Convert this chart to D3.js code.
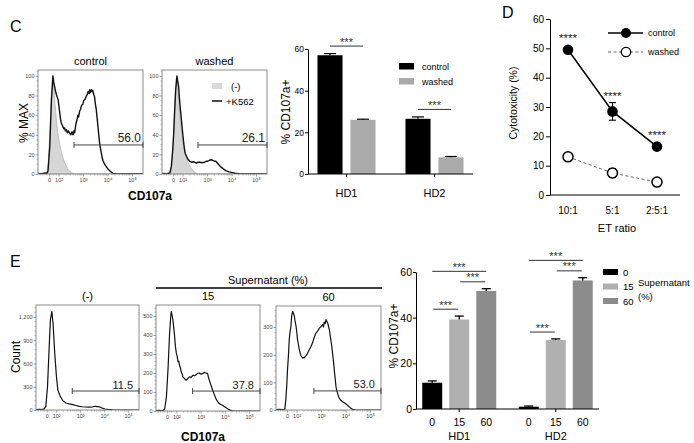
<!DOCTYPE html>
<html><head><meta charset="utf-8">
<script src="https://cdn.jsdelivr.net/npm/d3@7"></script>
<style>body{margin:0;background:#fff;} svg{display:block;}</style>
</head><body>
<script>
// ================= DATA =================
// Histogram x values are in display units of the biexponential CD107a axis
// (1.61 = "0", 2 = 10², 3 = 10³, 4 = 10⁴, 5 = 10⁵)
const histDomain = [1.16, 5.45];
const histTickValues = [1.61, 2, 3, 4, 5];
const histTickLabels = ["0", "10\u00B2", "10\u00B3", "10\u2074", "10\u2075"];

// ---- Panel C histograms (% MAX) ----
const cHistTitles = ["control", "washed"];
const cHistYTicks = [0, 20, 40, 60, 80, 100];
const cNegControl = [[1.16,0],[1.45,0],[1.52,1],[1.58,12],[1.64,40],[1.70,78],[1.75,96],[1.77,98],[1.81,88],[1.86,70],[1.91,55],[1.97,42],[2.04,31],[2.12,22],[2.20,15],[2.30,9],[2.40,4],[2.52,1.5],[2.65,0],[5.45,0]];
const cNegWashed = [[1.16,0],[1.45,0],[1.52,1],[1.58,14],[1.64,45],[1.70,80],[1.75,96],[1.77,98],[1.81,86],[1.86,68],[1.91,52],[1.97,40],[2.04,29],[2.12,20],[2.20,13],[2.30,8],[2.40,4],[2.52,1.5],[2.65,0],[5.45,0]];
const cControlK562 = [[1.16,0.5],[1.3,0.3],[1.45,1],[1.52,0.5],[1.57,3],[1.64,28],[1.71,76],[1.77,100],[1.80,94],[1.84,89],[1.88,84],[1.91,81],[1.95,78],[1.98,76],[2.02,68],[2.05,62],[2.08,56],[2.11,52],[2.15,50],[2.18,48],[2.22,46],[2.25,47],[2.28,44],[2.32,45],[2.36,42],[2.40,44],[2.45,42],[2.50,40],[2.55,43],[2.59,40],[2.63,44],[2.66,42],[2.69,48],[2.72,52],[2.76,56],[2.79,60],[2.82,58],[2.86,64],[2.90,66],[2.94,70],[2.99,71],[3.03,75],[3.08,76],[3.13,79],[3.17,81],[3.21,84],[3.25,82],[3.27,86],[3.30,83],[3.34,86],[3.38,84],[3.40,85],[3.44,81],[3.47,79],[3.50,72],[3.54,66],[3.58,56],[3.61,48],[3.65,38],[3.68,31],[3.72,25],[3.75,21],[3.78,17],[3.81,14],[3.88,10],[3.95,7.5],[4.02,5],[4.09,3.4],[4.15,2],[4.22,0.7],[4.36,0],[5.45,0]];
const cWashedK562 = [[1.16,0.5],[1.35,0.3],[1.48,1],[1.54,7.5],[1.60,25],[1.64,42],[1.68,66],[1.72,86],[1.77,100],[1.80,95],[1.84,89],[1.87,78],[1.91,66],[1.95,56],[1.98,48],[2.02,38],[2.05,31],[2.08,25],[2.11,21],[2.16,18],[2.22,15],[2.29,13],[2.36,12],[2.45,12.5],[2.56,11],[2.63,12],[2.70,12],[2.80,11.5],[2.90,12],[2.97,13],[3.03,13],[3.10,14],[3.17,14.5],[3.23,14],[3.30,13],[3.36,13],[3.43,11],[3.50,9],[3.57,7],[3.63,6],[3.70,4.5],[3.77,3.4],[3.90,2.2],[4.04,1.4],[4.15,0.8],[4.31,0.3],[4.45,0],[5.45,0]];
const cGateStart = [2.63, 2.63];
const cGateLevel = [29.6, 29.6];
const cGateLabels = ["56.0", "26.1"];
const cHistLegend = ["(-)", "+K562"];

// ---- Panel C bars (% CD107a+) ----
const cGroups = ["HD1", "HD2"];
const cSeries = ["control", "washed"];
const cControlMean = [57.0, 26.5];
const cControlErr = [0.8, 0.9];
const cWashedMean = [26.0, 8.0];
const cWashedErr = [0.3, 0.4];
const cYTicks = [0, 20, 40, 60];
const cSigLabel = ["***", "***"];

// ---- Panel D (cytotoxicity) ----
const dRatios = ["10:1", "5:1", "2:5:1"];
const dControl = [49.5, 28.5, 16.5];
const dControlErr = [0.8, 3.0, 0.8];
const dWashed = [13.0, 7.5, 4.4];
const dWashedErr = [0.6, 1.5, 0.5];
const dSig = ["****", "****", "****"];
const dYTicks = [0, 10, 20, 30, 40, 50, 60];

// ---- Panel E histograms (Count) ----
const eHistTitles = ["(-)", "15", "60"];
const eNegYTicks = [0, 300, 600, 900, 1200];
const eNegYLabels = ["0", "300", "600", "900", "1,200"];
const e15YTicks = [0, 100, 200, 300, 400, 500];
const e60YTicks = [0, 100, 200, 300];
const eNegCurve = [[1.16,5],[1.3,10],[1.4,5],[1.5,15],[1.57,47],[1.64,305],[1.71,820],[1.76,1165],[1.82,1270],[1.87,1120],[1.94,735],[2.01,435],[2.07,260],[2.12,215],[2.17,176],[2.28,120],[2.41,90],[2.55,78],[2.69,69],[2.82,58],[2.96,47],[3.10,42],[3.23,39],[3.37,38],[3.50,39],[3.57,45],[3.64,47],[3.70,44],[3.77,43],[3.84,35],[3.91,26],[3.97,18],[4.04,13],[4.15,7],[4.25,4],[4.35,1],[4.45,0],[5.45,0]];
const e15Curve = [[1.16,2],[1.3,4],[1.4,1],[1.47,3],[1.52,12],[1.59,74],[1.66,232],[1.72,408],[1.77,500],[1.79,523],[1.82,505],[1.86,479],[1.89,440],[1.93,391],[1.96,340],[2.00,303],[2.03,290],[2.07,259],[2.10,262],[2.13,241],[2.17,225],[2.20,206],[2.24,195],[2.27,180],[2.34,170],[2.41,162],[2.47,170],[2.54,180],[2.60,176],[2.68,188],[2.75,186],[2.82,192],[2.88,198],[2.95,200],[3.02,194],[3.09,197],[3.15,203],[3.22,200],[3.29,197],[3.32,180],[3.36,162],[3.43,135],[3.50,109],[3.57,85],[3.63,65],[3.70,50],[3.77,39],[3.84,34],[3.91,30],[3.97,24],[4.04,18],[4.11,12],[4.18,7],[4.25,3],[4.32,0],[5.45,0]];
const e60Curve = [[1.16,1],[1.3,2],[1.45,1],[1.52,3],[1.56,36],[1.60,90],[1.63,145],[1.67,200],[1.70,254],[1.73,280],[1.77,302],[1.80,340],[1.84,357],[1.87,350],[1.91,339],[1.94,320],[1.98,302],[2.01,280],[2.04,254],[2.08,235],[2.11,218],[2.15,205],[2.18,196],[2.21,192],[2.25,188],[2.28,190],[2.31,188],[2.35,193],[2.38,196],[2.45,205],[2.52,218],[2.58,228],[2.65,242],[2.72,262],[2.79,278],[2.86,285],[2.93,296],[2.99,300],[3.06,309],[3.10,300],[3.13,318],[3.17,312],[3.20,327],[3.24,320],[3.27,315],[3.30,305],[3.34,290],[3.37,272],[3.40,254],[3.44,230],[3.47,206],[3.51,175],[3.54,145],[3.58,112],[3.61,85],[3.64,70],[3.68,60],[3.71,50],[3.75,42],[3.81,35],[3.88,30],[3.95,26],[4.02,22],[4.08,17],[4.15,12],[4.22,6],[4.29,2],[4.43,0],[5.45,0]];
const eGateStart = [2.67, 2.67, 2.71];
const eGateLevel = [245, 105, 69];
const eGateLabels = ["11.5", "37.8", "53.0"];

// ---- Panel E bars (% CD107a+) ----
const eGroups = ["HD1", "HD2"];
const eConc = ["0", "15", "60"];
const eHD1 = [11.5, 39.2, 51.7];
const eHD1Err = [0.8, 1.5, 1.0];
const eHD2 = [1.0, 30.2, 56.3];
const eHD2Err = [0.3, 0.5, 1.2];
const eYTicks = [0, 20, 40, 60];
const eSigPairs = [[0,1],[1,2],[0,2]];
const eSigLabel = ["***", "***", "***"];

// ================= DRAWING =================
const FONT = "'Liberation Sans', Arial, Helvetica, sans-serif";
const svg = d3.select("body").append("svg").attr("width", 694).attr("height", 443)
  .style("font-family", FONT);

function txt(x, y, s, o = {}) {
  const t = svg.append("text").attr("x", x).attr("y", y).text(s)
    .attr("font-size", o.size || 11).attr("text-anchor", o.anchor || "start")
    .attr("fill", o.fill || "#000");
  if (o.weight) t.attr("font-weight", o.weight);
  if (o.rotate) t.attr("transform", `rotate(-90,${x},${y})`);
  if (o.baseline) t.attr("dominant-baseline", o.baseline);
  return t;
}

let clipId = 0;
function drawHist(cfg) {
  const { x0, y0, w, h, yMax, yTicks, yLabels, yMinor, title, neg, pos, gateStart, gateLevel, gateLabel, labelInset, labelSize, posWidth } = cfg;
  const x = d3.scaleLinear().domain(histDomain).range([x0, x0 + w]);
  const y = d3.scaleLinear().domain([0, yMax]).range([y0 + h, y0]);
  const id = "clip" + (clipId++);
  svg.append("clipPath").attr("id", id).append("rect").attr("x", x0).attr("y", y0).attr("width", w).attr("height", h);
  const g = svg.append("g").attr("clip-path", `url(#${id})`);
  if (neg) {
    g.append("path").datum(neg)
      .attr("d", d3.area().x(d => x(d[0])).y0(y(0)).y1(d => y(d[1])))
      .attr("fill", "#d6d6d6").attr("stroke", "#b5b5b5").attr("stroke-width", 0.8);
  }
  g.append("path").datum(pos)
    .attr("d", d3.line().x(d => x(d[0])).y(d => y(d[1])))
    .attr("fill", "none").attr("stroke", "#111").attr("stroke-width", posWidth || 1.2)
    .attr("stroke-linejoin", "round");
  // box
  svg.append("rect").attr("x", x0).attr("y", y0).attr("width", w).attr("height", h)
    .attr("fill", "none").attr("stroke", "#808080").attr("stroke-width", 0.9);
  // y axis
  const ya = svg.append("g").attr("transform", `translate(${x0},0)`)
    .call(d3.axisLeft(y).tickValues(yTicks).tickSize(2.5).tickPadding(1).tickFormat((d, i) => yLabels[i]));
  ya.select(".domain").remove();
  ya.selectAll("text").attr("font-size", 5.5).attr("fill", "#444").attr("font-family", FONT);
  ya.selectAll("line").attr("stroke", "#777").attr("stroke-width", 0.7);
  const minorY = d3.range(0, yMax, yMinor).filter(v => !yTicks.includes(v));
  svg.append("g").selectAll("line").data(minorY).join("line")
    .attr("x1", x0 - 1.5).attr("x2", x0).attr("y1", d => y(d)).attr("y2", d => y(d))
    .attr("stroke", "#888").attr("stroke-width", 0.6);
  // x axis
  const xa = svg.append("g").attr("transform", `translate(0,${y0 + h})`)
    .call(d3.axisBottom(x).tickValues(histTickValues).tickSize(2.5).tickPadding(2).tickFormat((d, i) => histTickLabels[i]));
  xa.select(".domain").remove();
  xa.selectAll("text").attr("font-size", 5.5).attr("fill", "#444").attr("font-family", FONT);
  xa.selectAll("line").attr("stroke", "#777").attr("stroke-width", 0.7);
  const minorX = [1.25, 1.35, 1.45, 1.52, 1.7, 1.8, 1.9];
  for (let n = 2; n <= 4; n++) for (let k = 2; k <= 9; k++) minorX.push(n + Math.log10(k));
  svg.append("g").selectAll("line").data(minorX).join("line")
    .attr("x1", d => x(d)).attr("x2", d => x(d)).attr("y1", y0 + h).attr("y2", y0 + h + 1.5)
    .attr("stroke", "#888").attr("stroke-width", 0.6);
  // title
  txt(x0 + w / 2, y0 - 5, title, { size: 11, anchor: "middle" });
  // gate
  const gy = y(gateLevel), gx1 = x(gateStart), gx2 = x0 + w;
  svg.append("line").attr("x1", gx1).attr("x2", gx2).attr("y1", gy).attr("y2", gy)
    .attr("stroke", "#444").attr("stroke-width", 1);
  [gx1, gx2].forEach(gx => svg.append("line").attr("x1", gx).attr("x2", gx).attr("y1", gy - 3).attr("y2", gy + 3)
    .attr("stroke", "#444").attr("stroke-width", 1));
  txt(gx2 - labelInset, gy - 2.5, gateLabel, { size: labelSize, anchor: "end", fill: "#222" });
  return { x, y };
}

// ---------- Panel letters ----------
txt(10, 32, "C", { size: 16 });
txt(502, 18, "D", { size: 16 });
txt(10, 267, "E", { size: 16 });

// ---------- Panel C histograms ----------
const cBoxes = [{ x0: 38 }, { x0: 162 }];
[[cNegControl, cControlK562], [cNegWashed, cWashedK562]].forEach((c, i) => {
  drawHist({ x0: cBoxes[i].x0, y0: 70, w: 105, h: 104, yMax: 106, yTicks: cHistYTicks,
    yLabels: cHistYTicks.map(String), yMinor: 5, title: cHistTitles[i], neg: c[0], pos: c[1],
    gateStart: cGateStart[i], gateLevel: cGateLevel[i], gateLabel: cGateLabels[i],
    labelInset: 2, labelSize: 12, posWidth: 1.4 });
});
// legend in washed box
svg.append("rect").attr("x", 212).attr("y", 83).attr("width", 10).attr("height", 6).attr("fill", "#d9d9d9");
txt(231, 86, cHistLegend[0], { size: 9.5, baseline: "central" });
svg.append("line").attr("x1", 212).attr("x2", 222).attr("y1", 101).attr("y2", 101).attr("stroke", "#111").attr("stroke-width", 1.5);
txt(226, 101, cHistLegend[1], { size: 9.5, baseline: "central" });
txt(27.5, 123, "% MAX", { size: 12, anchor: "middle", rotate: true });
txt(150, 200, "CD107a", { size: 12, anchor: "middle", weight: "bold" });

// ---------- Panel C bars ----------
{
  const y = d3.scaleLinear().domain([0, 60]).range([174, 49]);
  const x0 = d3.scaleBand().domain(cGroups).range([308, 473]).paddingInner(0.2).paddingOuter(0.0375);
  const x1 = d3.scaleBand().domain(cSeries).range([0, x0.bandwidth()]).paddingInner(0.24).paddingOuter(0.187);
  const colors = { control: "#000", washed: "#aaaaaa" };
  const rows = [];
  cGroups.forEach((g, i) => {
    rows.push({ g, s: "control", v: cControlMean[i], e: cControlErr[i] });
    rows.push({ g, s: "washed", v: cWashedMean[i], e: cWashedErr[i] });
  });
  svg.append("g").selectAll("rect").data(rows).join("rect")
    .attr("x", d => x0(d.g) + x1(d.s)).attr("width", x1.bandwidth())
    .attr("y", d => y(d.v)).attr("height", d => y(0) - y(d.v)).attr("fill", d => colors[d.s]);
  rows.forEach(d => {
    const cx = x0(d.g) + x1(d.s) + x1.bandwidth() / 2;
    svg.append("line").attr("x1", cx).attr("x2", cx).attr("y1", y(d.v)).attr("y2", y(d.v + d.e)).attr("stroke", "#000").attr("stroke-width", 1.2);
    svg.append("line").attr("x1", cx - 6).attr("x2", cx + 6).attr("y1", y(d.v + d.e)).attr("y2", y(d.v + d.e)).attr("stroke", "#000").attr("stroke-width", 1.2);
  });
  const ya = svg.append("g").attr("transform", "translate(308,0)")
    .call(d3.axisLeft(y).tickValues(cYTicks).tickSize(3).tickSizeOuter(0).tickPadding(1));
  ya.selectAll("text").attr("font-size", 8.5).attr("font-family", FONT);
  ya.select(".domain").attr("stroke-width", 1);
  svg.append("line").attr("x1", 308).attr("x2", 473).attr("y1", 174).attr("y2", 174).attr("stroke", "#000").attr("stroke-width", 1);
  cGroups.forEach(g => {
    const cx = x0(g) + x0.bandwidth() / 2;
    svg.append("line").attr("x1", cx).attr("x2", cx).attr("y1", 174).attr("y2", 177).attr("stroke", "#000");
    txt(cx, 197, g, { size: 11, anchor: "middle" });
  });
  // significance
  cGroups.forEach((g, i) => {
    const top = Math.max(cControlMean[i] + cControlErr[i], cWashedMean[i] + cWashedErr[i]);
    const ly = y(top + 3.6);
    const xa = x0(g) + x1("control") + x1.bandwidth() / 2, xb = x0(g) + x1("washed") + x1.bandwidth() / 2;
    svg.append("line").attr("x1", xa).attr("x2", xb).attr("y1", ly).attr("y2", ly).attr("stroke", "#333").attr("stroke-width", 1);
    txt((xa + xb) / 2, ly - 0.5, cSigLabel[i], { size: 11, anchor: "middle", fill: "#333" });
  });
  // legend
  cSeries.forEach((s, i) => {
    svg.append("rect").attr("x", 399).attr("y", 63 + i * 15).attr("width", 15).attr("height", 6.5).attr("fill", colors[s]);
    txt(422, 66.5 + i * 15, s, { size: 9, baseline: "central" });
  });
  txt(289.5, 112, "% CD107a+", { size: 12, anchor: "middle", rotate: true });
}

// ---------- Panel D ----------
{
  const y = d3.scaleLinear().domain([0, 60]).range([195, 19]);
  const x = d3.scalePoint().domain(dRatios).range([568, 657]);
  const ya = svg.append("g").attr("transform", "translate(550,0)")
    .call(d3.axisLeft(y).tickValues(dYTicks).tickSize(4).tickSizeOuter(0).tickPadding(2));
  ya.selectAll("text").attr("font-size", 10).attr("font-family", FONT);
  svg.append("line").attr("x1", 550).attr("x2", 680).attr("y1", 195).attr("y2", 195).attr("stroke", "#000");
  dRatios.forEach(r => txt(x(r), 214, r, { size: 10, anchor: "middle" }));
  txt(617, 232, "ET ratio", { size: 11, anchor: "middle" });
  txt(517, 103, "Cytotoxicity (%)", { size: 10.5, anchor: "middle", rotate: true });
  const line = d3.line().x((d, i) => x(dRatios[i])).y(d => y(d));
  svg.append("path").datum(dWashed).attr("d", line).attr("fill", "none").attr("stroke", "#666").attr("stroke-width", 1).attr("stroke-dasharray", "3,2.5");
  svg.append("path").datum(dControl).attr("d", line).attr("fill", "none").attr("stroke", "#000").attr("stroke-width", 1.5);
  const errs = (vals, errs) => vals.forEach((v, i) => {
    const cx = x(dRatios[i]);
    svg.append("line").attr("x1", cx).attr("x2", cx).attr("y1", y(v - errs[i])).attr("y2", y(v + errs[i])).attr("stroke", "#000").attr("stroke-width", 1.1);
    [v - errs[i], v + errs[i]].forEach(e => svg.append("line").attr("x1", cx - 3.5).attr("x2", cx + 3.5).attr("y1", y(e)).attr("y2", y(e)).attr("stroke", "#000").attr("stroke-width", 1.1));
  });
  errs(dWashed, dWashedErr);
  errs(dControl, dControlErr);
  svg.append("g").selectAll("circle").data(dWashed).join("circle")
    .attr("cx", (d, i) => x(dRatios[i])).attr("cy", d => y(d)).attr("r", 5)
    .attr("fill", "#fff").attr("stroke", "#000").attr("stroke-width", 1.5);
  svg.append("g").selectAll("circle").data(dControl).join("circle")
    .attr("cx", (d, i) => x(dRatios[i])).attr("cy", d => y(d)).attr("r", 5.3).attr("fill", "#000");
  dControl.forEach((v, i) => {
    const top = Math.min(y(v) - 5.3, y(v + dControlErr[i]));
    txt(x(dRatios[i]), top - 2.5, dSig[i], { size: 11.5, anchor: "middle", fill: "#222" });
  });
  // legend
  svg.append("line").attr("x1", 608).attr("x2", 643).attr("y1", 33).attr("y2", 33).attr("stroke", "#000").attr("stroke-width", 1.3);
  svg.append("circle").attr("cx", 626).attr("cy", 33).attr("r", 5).attr("fill", "#000");
  txt(648, 33, "control", { size: 9, baseline: "central" });
  svg.append("line").attr("x1", 608).attr("x2", 643).attr("y1", 52).attr("y2", 52).attr("stroke", "#666").attr("stroke-dasharray", "3,2.5");
  svg.append("circle").attr("cx", 626).attr("cy", 52).attr("r", 4.7).attr("fill", "#fff").attr("stroke", "#000").attr("stroke-width", 1.3);
  txt(648, 52, "washed", { size: 9, baseline: "central" });
}

// ---------- Panel E histograms ----------
drawHist({ x0: 36, y0: 305, w: 103, h: 105, yMax: 1355, yTicks: eNegYTicks, yLabels: eNegYLabels, yMinor: 60,
  title: eHistTitles[0], pos: eNegCurve, gateStart: eGateStart[0], gateLevel: eGateLevel[0], gateLabel: eGateLabels[0],
  labelInset: 6, labelSize: 11, posWidth: 1.2 });
drawHist({ x0: 156, y0: 305, w: 104, h: 106, yMax: 558, yTicks: e15YTicks, yLabels: e15YTicks.map(String), yMinor: 20,
  title: eHistTitles[1], pos: e15Curve, gateStart: eGateStart[1], gateLevel: eGateLevel[1], gateLabel: eGateLabels[1],
  labelInset: 6, labelSize: 11, posWidth: 1.2 });
drawHist({ x0: 276, y0: 306, w: 105, h: 104, yMax: 376, yTicks: e60YTicks, yLabels: e60YTicks.map(String), yMinor: 20,
  title: eHistTitles[2], pos: e60Curve, gateStart: eGateStart[2], gateLevel: eGateLevel[2], gateLabel: eGateLabels[2],
  labelInset: 6, labelSize: 11, posWidth: 1.2 });
svg.append("line").attr("x1", 156).attr("x2", 382).attr("y1", 288).attr("y2", 288).attr("stroke", "#000").attr("stroke-width", 1.5);
txt(268, 284, "Supernatant (%)", { size: 11, anchor: "middle" });
txt(19.5, 357, "Count", { size: 12, anchor: "middle", rotate: true });
txt(203, 441, "CD107a", { size: 12, anchor: "middle", weight: "bold" });

// ---------- Panel E bars ----------
{
  const y = d3.scaleLinear().domain([0, 60]).range([409, 272]);
  const x0 = d3.scaleBand().domain(eGroups).range([416, 599]).paddingInner(0.144).paddingOuter(0.02);
  const x1 = d3.scaleBand().domain(eConc).range([0, x0.bandwidth()]).paddingInner(0.26).paddingOuter(0.16);
  const colors = { "0": "#000", "15": "#b0b0b0", "60": "#8c8c8c" };
  const vals = { HD1: [eHD1, eHD1Err], HD2: [eHD2, eHD2Err] };
  eGroups.forEach(g => {
    const [m, e] = vals[g];
    eConc.forEach((c, i) => {
      const bx = x0(g) + x1(c), cx = bx + x1.bandwidth() / 2;
      svg.append("rect").attr("x", bx).attr("width", x1.bandwidth()).attr("y", y(m[i])).attr("height", y(0) - y(m[i]))
        .attr("fill", colors[c]);
      svg.append("line").attr("x1", cx).attr("x2", cx).attr("y1", y(m[i])).attr("y2", y(m[i] + e[i])).attr("stroke", "#000").attr("stroke-width", 1.3);
      svg.append("line").attr("x1", cx - 4.5).attr("x2", cx + 4.5).attr("y1", y(m[i] + e[i])).attr("y2", y(m[i] + e[i])).attr("stroke", "#000").attr("stroke-width", 1.3);
      txt(cx, 426, c, { size: 10.5, anchor: "middle" });
    });
    const gc = x0(g) + x0.bandwidth() / 2;
    svg.append("line").attr("x1", gc).attr("x2", gc).attr("y1", 409).attr("y2", 412).attr("stroke", "#000");
    txt(gc, 440, g, { size: 11, anchor: "middle" });
    // significance
    eSigPairs.forEach((p, k) => {
      const tops = d3.range(p[0], p[1] + 1).map(i => m[i] + e[i]);
      let lv = d3.max(tops) + 3;
      if (p[1] - p[0] === 2) lv += 4.6;
      const ly = y(lv);
      const xa = x0(g) + x1(eConc[p[0]]) + x1.bandwidth() / 2 + (p[1] - p[0] === 2 ? 0 : 1);
      const xb = x0(g) + x1(eConc[p[1]]) + x1.bandwidth() / 2 - (p[1] - p[0] === 2 ? 0 : 1);
      svg.append("line").attr("x1", xa).attr("x2", xb).attr("y1", ly).attr("y2", ly).attr("stroke", "#333").attr("stroke-width", 1);
      txt((xa + xb) / 2, ly - 0.5, eSigLabel[k], { size: 11, anchor: "middle", fill: "#333" });
    });
  });
  const ya = svg.append("g").attr("transform", "translate(416,0)")
    .call(d3.axisLeft(y).tickValues(eYTicks).tickSize(3).tickSizeOuter(0).tickPadding(1));
  ya.selectAll("text").attr("font-size", 10.5).attr("font-family", FONT);
  svg.append("line").attr("x1", 416).attr("x2", 599).attr("y1", 409).attr("y2", 409).attr("stroke", "#000").attr("stroke-width", 1);
  txt(397.5, 336, "% CD107a+", { size: 12, anchor: "middle", rotate: true });
  // legend
  eConc.forEach((c, i) => {
    svg.append("rect").attr("x", 603).attr("y", 269 + i * 14.5).attr("width", 15).attr("height", 6).attr("fill", colors[c]);
    txt(623, 272 + i * 14.5, c, { size: 9.5, baseline: "central" });
  });
  txt(638, 282, "Supernatant", { size: 9.5, baseline: "central" });
  txt(638, 296, "(%)", { size: 9.5, baseline: "central" });
}
</script>
</body></html>
